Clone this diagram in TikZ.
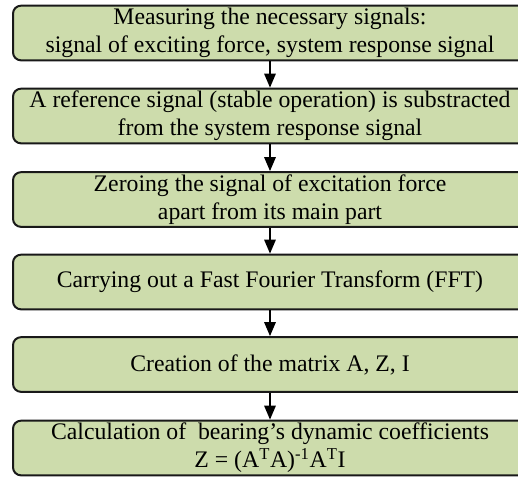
\documentclass[tikz,border=0pt]{standalone}
\usepackage{fontspec}
\setmainfont{Liberation Serif}
\usepackage{color}
\usetikzlibrary{arrows.meta}

\definecolor{stepgreen}{RGB}{205,220,172}

\begin{document}
\begin{tikzpicture}[x=0.75pt,y=0.75pt,yscale=-1,
  stepbox/.style={draw=black!90,fill=stepgreen,line width=1.5pt,rounded corners=6pt,
    minimum width=385.5pt,minimum height=41pt,inner sep=0pt,align=center,
    font=\fontsize{17.8}{21}\selectfont},
  flow/.style={line width=1.5pt,-{Triangle[width=8.5pt,length=10.5pt]}}]
%set diagram to 518 x 476, boxes run past the right edge
\clip (0,0) rectangle (518,476);
\fill[white] (0,0) rectangle (518,476);

% Step boxes
\node [stepbox] (measure) at (270,33) {Measuring the necessary signals:\\signal of exciting force, system response signal};
\node [stepbox] (refsig) at (270,116) {A reference signal (stable operation) is substracted\\from the system response signal};
\node [stepbox] (zeroing) at (270,199.5) {Zeroing the signal of excitation force\\apart from its main part};
\node [stepbox] (fft) at (270,282) {Carrying out a Fast Fourier Transform (FFT)};
\node [stepbox] (matrix) at (270,364.5) {Creation of the matrix A, Z, I};
\node [stepbox] (coeff) at (270,448) {Calculation of~ bearing’s dynamic coefficients\\Z = (A\textsuperscript{T}A)\textsuperscript{-1}A\textsuperscript{T}I};

% Arrows
\draw [flow] (measure) -- (refsig);
\draw [flow] (refsig) -- (zeroing);
\draw [flow] (zeroing) -- (fft);
\draw [flow] (fft) -- (matrix);
\draw [flow] (matrix) -- (coeff);

\end{tikzpicture}
\end{document}
